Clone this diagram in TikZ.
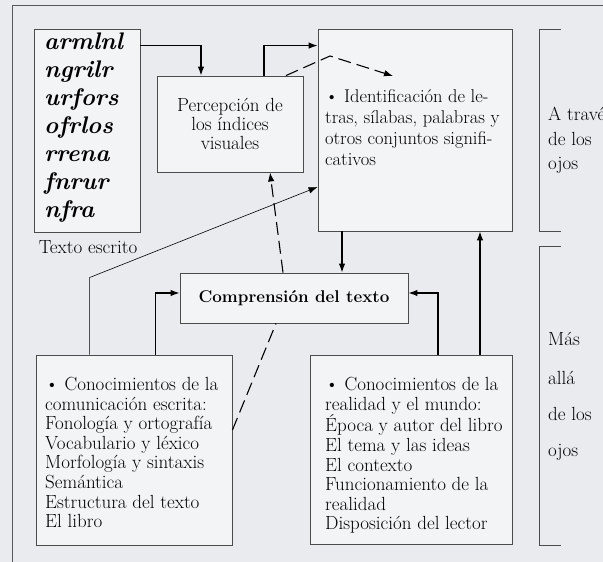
\documentclass[tikz,border=0pt]{standalone}
\usepackage{tikz}
\usetikzlibrary{arrows.meta}

\definecolor{paper}{RGB}{233,235,239}
\definecolor{boxfill}{RGB}{243,244,246}

\tikzset{
  box/.style={draw=black!70, line width=0.9pt, fill=boxfill, inner sep=0pt},
  txt/.style={align=left, anchor=north west, inner sep=0pt, font=\fontsize{19}{19.6}\selectfont},
  side/.style={anchor=west, inner sep=0pt, font=\fontsize{19}{19.6}\selectfont},
  arr/.style={-{Latex[length=9pt,width=6.5pt]}, line width=1.1pt},
  thinarr/.style={-{Latex[length=9pt,width=6.5pt]}, line width=0.6pt},
  dsh/.style={arr, dash pattern=on 13pt off 6pt},
}

\begin{document}
\begin{tikzpicture}[x=1pt, y=-1pt]
  \useasboundingbox (0,0) rectangle (603,562);
  \fill[paper] (0,0) rectangle (603,562);
  % outer frame, only top and left show
  \draw[black!65, line width=0.9pt] (12,575) -- (12,5) -- (615,5);

  % boxes
  \node[box, minimum width=106pt, minimum height=203pt] (esc) at (87,130.5) {};
  \node[txt, font=\bfseries\itshape\fontsize{24}{28}\selectfont] (hand) at (44,33)
    {armlnl\\ngrilr\\urfors\\ofrlos\\rrena\\fnrur\\nfra};
  \node[font=\fontsize{19}{19.6}\selectfont] (esclbl) at (88,247) {Texto escrito};

  \node[box, minimum width=146pt, minimum height=96pt, align=center,
        font=\fontsize{19}{19}\selectfont] (perc) at (230,124)
    {Percepción de\\los índices\\visuales};

  \node[box, minimum width=194pt, minimum height=202pt] (ident) at (415,130) {};
  \node[txt, font=\fontsize{18.5}{21}\selectfont] (identtxt) at (325,89)
    {\textbullet\ Identificación de le-\\tras, sílabas, palabras y\\otros conjuntos signifi-\\cativos};

  \node[box, minimum width=228pt, minimum height=50pt,
        font=\bfseries\fontsize{17}{19}\selectfont] (compr) at (294,298)
    {Comprensión del texto};

  \node[box, minimum width=196pt, minimum height=190pt] (conesc) at (134,450) {};
  \node[txt] (conesctxt) at (45,377)
    {\textbullet\ Conocimientos de la\\comunicación escrita:\\Fonología y ortografía\\Vocabulario y léxico\\Morfología y sintaxis\\Semántica\\Estructura del texto\\El libro};

  \node[box, minimum width=202pt, minimum height=189pt] (conreal) at (411,449.5) {};
  \node[txt] (conrealtxt) at (325,377)
    {\textbullet\ Conocimientos de la\\realidad y el mundo:\\Época y autor del libro\\El tema y las ideas\\El contexto\\Funcionamiento de la\\realidad\\Disposición del lector};

  % brackets on the right
  \draw[black!70, line width=0.9pt] (561,29) -- (539,29) -- (539,231) -- (561,231);
  \draw[black!70, line width=0.9pt] (561,246) -- (539,246) -- (539,545) -- (561,545);
  \node[side] (ojos1) at (548,114) {A través};
  \node[side] (ojos2) at (548,139) {de los};
  \node[side] (ojos3) at (548,165) {ojos};
  \node[side] (mas1) at (548,339) {Más};
  \node[side] (mas2) at (548,378) {allá};
  \node[side] (mas3) at (548,414) {de los};
  \node[side] (mas4) at (548,452) {ojos};

  % connectors
  \coordinate (peak) at (330,56);
  \coordinate (tipin) at (393,76);
  \draw[arr] ([yshift=-17pt]esc.north east) -| ([xshift=-29pt]perc.north);
  \draw[arr] ([xshift=34pt]perc.north) |- ([yshift=-17pt]ident.north west);
  \draw[dsh] ([xshift=56pt]perc.north) -- (peak) -- (tipin);
  \draw[thinarr] ([xshift=54pt]conesc.north west) -- ++(0,-77) -- ([yshift=-57pt]ident.west);
  \draw[arr] ([xshift=120pt]conesc.north west) |- ([yshift=5pt]compr.west);
  \draw[dash pattern=on 13pt off 6pt, line width=1.1pt] ([yshift=20pt]conesc.east) -- ([xshift=-18pt]compr.south);
  \draw[dsh] ([xshift=-11pt]compr.north) -- ([xshift=40pt]perc.south);
  \draw[arr] ([xshift=-73pt]ident.south) -- ([xshift=48pt]compr.north);
  \draw[arr] ([xshift=27pt]conreal.north) |- ([yshift=5pt]compr.east);
  \draw[arr] ([xshift=69pt]conreal.north) -- ([xshift=65pt]ident.south);
\end{tikzpicture}
\end{document}
